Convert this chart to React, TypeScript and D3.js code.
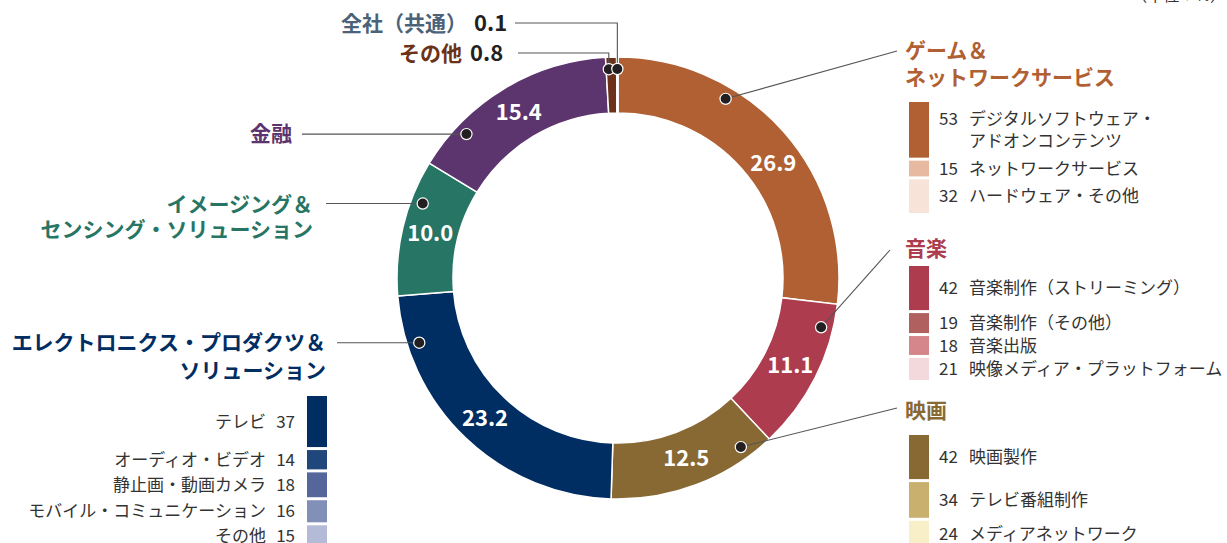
import React from "react";
import * as d3 from "d3";

// ---- data ----
const segmentNames = [
  "ゲーム＆ネットワークサービス",
  "音楽",
  "映画",
  "エレクトロニクス・プロダクツ＆ソリューション",
  "イメージング＆センシング・ソリューション",
  "金融",
  "その他",
  "全社（共通）",
];
const segmentShares = [26.9, 11.1, 12.5, 23.2, 10.0, 15.4, 0.8, 0.1];
const segmentColors = ["#b06032", "#ac3c4e", "#886934", "#002d62", "#277564", "#5c346e", "#6b3219", "#7e97a8"];

const gameSubLabels = [["デジタルソフトウェア・", "アドオンコンテンツ"], ["ネットワークサービス"], ["ハードウェア・その他"]];
const gameSubValues = [53, 15, 32];
const gameSubColors = ["#b06032", "#e6b9a0", "#f7e3d7"];

const musicSubLabels = [["音楽制作（ストリーミング）"], ["音楽制作（その他）"], ["音楽出版"], ["映像メディア・プラットフォーム"]];
const musicSubValues = [42, 19, 18, 21];
const musicSubColors = ["#ac3c4e", "#b0605f", "#d4868a", "#f3d9db"];

const filmSubLabels = [["映画製作"], ["テレビ番組制作"], ["メディアネットワーク"]];
const filmSubValues = [42, 34, 24];
const filmSubColors = ["#886934", "#c9b06f", "#f8efc8"];

const epsSubLabels = ["テレビ", "オーディオ・ビデオ", "静止画・動画カメラ", "モバイル・コミュニケーション", "その他"];
const epsSubValues = [37, 14, 18, 16, 15];
const epsSubColors = ["#002d62", "#1f477c", "#55669a", "#8290b8", "#b3bbd6"];

const unitLabel = "（単位：%）";

// ---- layout ----
const W = 1227;
const H = 543;
const cx = 618;
const cy = 278;
const rOuter = 221;
const rInner = 165;
const rDot = 209;
const FONT = "'Noto Sans CJK JP', 'Noto Sans', sans-serif";
const dotFractions = [0.32, 0.17, 0.16, 0.84, 0.71, 0.22, 0.25, 0.5];
const labelAngleShift = [0.09, 0, 0, 0, 0, 0];

type Leg = { labels: string[][]; values: number[]; colors: string[]; top: number };

function RightLegend({ labels, values, colors, top }: Leg) {
  const h = d3.scaleLinear().domain([0, 100]).range([0, 105]);
  let y = top;
  return (
    <g>
      {values.map((v, i) => {
        const y0 = y;
        const hh = h(v);
        y += hh + 3;
        const mid = y0 + hh / 2;
        const lines = labels[i];
        const lh = 22;
        return (
          <g key={i}>
            <rect x={909} y={y0} width={20} height={hh} fill={colors[i]} />
            {lines.map((l, j) => {
              const ty = mid + (j - (lines.length - 1) / 2) * lh;
              return (
                <g key={j}>
                  {j === 0 && (
                    <text x={939} y={ty} dy="0.36em" fontSize={17} fill="#333">
                      {v}
                    </text>
                  )}
                  <text x={969} y={ty} dy="0.36em" fontSize={17} fill="#333">
                    {l}
                  </text>
                </g>
              );
            })}
          </g>
        );
      })}
    </g>
  );
}

function LeftLegend() {
  const h = d3.scaleLinear().domain([0, 100]).range([0, 138]);
  let y = 396;
  return (
    <g>
      {epsSubValues.map((v, i) => {
        const y0 = y;
        const hh = h(v);
        y += hh + 3;
        const mid = y0 + hh / 2;
        return (
          <g key={i}>
            <rect x={307} y={y0} width={20} height={hh} fill={epsSubColors[i]} />
            <text x={295} y={mid} dy="0.36em" fontSize={17} fill="#333" textAnchor="end">
              {v}
            </text>
            <text x={266} y={mid} dy="0.36em" fontSize={17} fill="#333" textAnchor="end">
              {epsSubLabels[i]}
            </text>
          </g>
        );
      })}
    </g>
  );
}

export default function App() {
  const pie = d3
    .pie<number>()
    .sort(null)
    .value((d) => d)
    .startAngle(0)
    .endAngle(2 * Math.PI);
  const arcs = pie(segmentShares);
  const arc = d3.arc<d3.PieArcDatum<number>>().innerRadius(rInner).outerRadius(rOuter);

  const dotPos = arcs.map((a, i) => {
    const ang = a.startAngle + (a.endAngle - a.startAngle) * dotFractions[i];
    return [cx + rDot * Math.sin(ang), cy - rDot * Math.cos(ang)];
  });

  const lineColor = "#555";
  const leaders: string[] = [
    `M${dotPos[0][0]},${dotPos[0][1]}L897,51`,
    `M${dotPos[1][0]},${dotPos[1][1]}L890,250`,
    `M${dotPos[2][0]},${dotPos[2][1]}L897,408`,
    `M${dotPos[3][0]},${dotPos[3][1]}L337,${dotPos[3][1]}`,
    `M${dotPos[4][0]},${dotPos[4][1]}L326,${dotPos[4][1]}`,
    `M${dotPos[5][0]},${dotPos[5][1]}L302,${dotPos[5][1]}`,
    `M${dotPos[6][0]},${dotPos[6][1]}L${dotPos[6][0]},53L518,53`,
    `M${dotPos[7][0]},${dotPos[7][1]}L${dotPos[7][0]},23L515,23`,
  ];

  return (
    <div style={{ position: "absolute", left: 0, top: 0 }}>
      <svg width={W} height={H} style={{ display: "block", fontFamily: FONT }}>
        <rect width={W} height={H} fill="#fff" />
        <text x={1226} y={1} fontSize={16} fill="#333" textAnchor="end">
          {unitLabel}
        </text>
        <g transform={`translate(${cx},${cy})`}>
          {arcs.map((a, i) => (
            <path key={i} d={arc(a) || ""} fill={segmentColors[i]} stroke="#fff" strokeWidth={1.5} />
          ))}
          {arcs.slice(0, 6).map((a, i) => {
            const ang = (a.startAngle + a.endAngle) / 2 + labelAngleShift[i];
            const x = 193 * Math.sin(ang);
            const y = -193 * Math.cos(ang);
            return (
              <text key={i} x={x} y={y} dy="0.36em" textAnchor="middle" fontSize={22} fontWeight={700} fill="#fff">
                {segmentShares[i].toFixed(1)}
              </text>
            );
          })}
        </g>
        {leaders.map((d, i) => (
          <path key={i} d={d} fill="none" stroke={lineColor} strokeWidth={1.1} />
        ))}
        {dotPos.map((p, i) => (
          <circle key={i} cx={p[0]} cy={p[1]} r={5.6} fill="#231f20" stroke="#fff" strokeWidth={1.2} />
        ))}

        {/* top labels */}
        <text x={467} y={23} dy="0.36em" textAnchor="end" fontSize={21} fontWeight={700} fill="#4b6279">
          {segmentNames[7]}
        </text>
        <text x={474} y={23} dy="0.36em" fontSize={22} fontWeight={700} fill="#231f20">
          {segmentShares[7].toFixed(1)}
        </text>
        <text x={462} y={53} dy="0.36em" textAnchor="end" fontSize={21} fontWeight={700} fill="#6b3219">
          {segmentNames[6]}
        </text>
        <text x={470} y={53} dy="0.36em" fontSize={22} fontWeight={700} fill="#231f20">
          {segmentShares[6].toFixed(1)}
        </text>

        {/* right titles */}
        <text x={905} y={50} dy="0.36em" fontSize={21} fontWeight={700} fill={segmentColors[0]}>
          ゲーム＆
        </text>
        <text x={905} y={77} dy="0.36em" fontSize={21} fontWeight={700} fill={segmentColors[0]}>
          ネットワークサービス
        </text>
        <text x={905} y={248} dy="0.36em" fontSize={21} fontWeight={700} fill={segmentColors[1]}>
          {segmentNames[1]}
        </text>
        <text x={905} y={410} dy="0.36em" fontSize={21} fontWeight={700} fill={segmentColors[2]}>
          {segmentNames[2]}
        </text>

        {/* left titles */}
        <text x={292} y={133} dy="0.36em" textAnchor="end" fontSize={21} fontWeight={700} fill={segmentColors[5]}>
          {segmentNames[5]}
        </text>
        <text x={313} y={204} dy="0.36em" textAnchor="end" fontSize={21} fontWeight={700} fill={segmentColors[4]}>
          イメージング＆
        </text>
        <text x={313} y={229} dy="0.36em" textAnchor="end" fontSize={21} fontWeight={700} fill={segmentColors[4]}>
          センシング・ソリューション
        </text>
        <text x={326} y={342} dy="0.36em" textAnchor="end" fontSize={21} fontWeight={700} fill={segmentColors[3]}>
          エレクトロニクス・プロダクツ＆
        </text>
        <text x={326} y={370} dy="0.36em" textAnchor="end" fontSize={21} fontWeight={700} fill={segmentColors[3]}>
          ソリューション
        </text>

        <RightLegend labels={gameSubLabels} values={gameSubValues} colors={gameSubColors} top={102} />
        <RightLegend labels={musicSubLabels} values={musicSubValues} colors={musicSubColors} top={266} />
        <RightLegend labels={filmSubLabels} values={filmSubValues} colors={filmSubColors} top={435} />
        <LeftLegend />
      </svg>
    </div>
  );
}
